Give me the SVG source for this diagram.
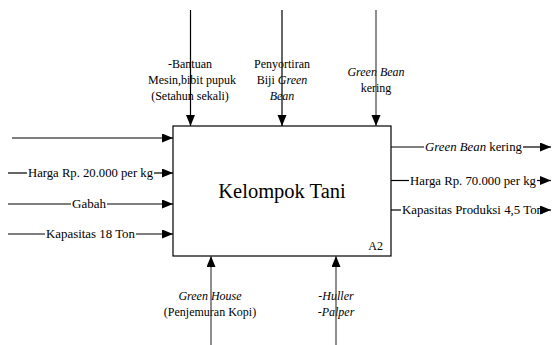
<svg xmlns="http://www.w3.org/2000/svg" width="552" height="345" viewBox="0 0 552 345">
<style>
text{font-family:"Liberation Serif","Times New Roman",serif;font-size:12px;fill:#000}
.c{text-anchor:middle}
.ln{stroke:#000;stroke-width:1.2;fill:none}
.gl{stroke:#444;stroke-width:1.2;fill:none}
</style>
<defs>
<marker id="ah" markerUnits="userSpaceOnUse" markerWidth="12" markerHeight="10" refX="11" refY="4.5" orient="auto">
<path d="M0,0 L11,4.5 L0,9 Z" fill="#000"/>
</marker>
</defs>
<g id="node-kelompok-tani">
<rect x="173" y="126" width="218" height="130" fill="#fff" stroke="#000" stroke-width="1.2"/>
<text class="c" x="282" y="198" style="font-size:20.5px">Kelompok Tani</text>
<text x="383" y="250" text-anchor="end">A2</text>
</g>
<g id="labels-left">
<text x="28" y="177" textLength="125" lengthAdjust="spacingAndGlyphs">Harga Rp. 20.000 per kg</text>
<text x="72" y="208" textLength="34" lengthAdjust="spacingAndGlyphs">Gabah</text>
<text x="46" y="238" textLength="89" lengthAdjust="spacingAndGlyphs">Kapasitas 18 Ton</text>
</g>
<g id="labels-right">
<text x="425" y="151" textLength="97" lengthAdjust="spacingAndGlyphs"><tspan font-style="italic">Green Bean</tspan> kering</text>
<text x="410" y="184.5" textLength="126" lengthAdjust="spacingAndGlyphs">Harga Rp. 70.000 per kg</text>
<text x="402" y="214" textLength="141" lengthAdjust="spacingAndGlyphs">Kapasitas Produksi 4,5 Ton</text>
</g>
<g id="labels-top">
<text class="c" x="190" y="68">-Bantuan</text>
<text class="c" x="192" y="84">Mesin,bibit pupuk</text>
<text class="c" x="190" y="100">(Setahun sekali)</text>
<text class="c" x="282" y="68">Penyortiran</text>
<text class="c" x="282" y="84">Biji <tspan font-style="italic">Green</tspan></text>
<text class="c" x="282" y="100" font-style="italic">Bean</text>
<text class="c" x="376" y="76" font-style="italic">Green Bean</text>
<text class="c" x="376" y="92">kering</text>
</g>
<g id="labels-bottom">
<text class="c" x="210" y="300" font-style="italic">Green House</text>
<text class="c" x="210" y="316">(Penjemuran Kopi)</text>
<text class="c" x="336" y="300" font-style="italic">-Huller</text>
<text class="c" x="336" y="316" font-style="italic">-Palper</text>
</g>
<g id="connectors">
<line class="ln" x1="12" y1="138" x2="173" y2="138" marker-end="url(#ah)"/>
<line class="ln" x1="8" y1="173" x2="27" y2="173"/>
<line class="ln" x1="154" y1="173" x2="173" y2="173" marker-end="url(#ah)"/>
<line class="ln" x1="8" y1="204" x2="71" y2="204"/>
<line class="ln" x1="107" y1="204" x2="173" y2="204" marker-end="url(#ah)"/>
<line class="ln" x1="8" y1="234" x2="45" y2="234"/>
<line class="ln" x1="136" y1="234" x2="173" y2="234" marker-end="url(#ah)"/>
<line class="ln" x1="391" y1="147" x2="424" y2="147"/>
<line class="ln" x1="523" y1="147" x2="551" y2="147" marker-end="url(#ah)"/>
<line class="ln" x1="391" y1="180.5" x2="409" y2="180.5"/>
<line class="ln" x1="537" y1="180.5" x2="551" y2="180.5" marker-end="url(#ah)"/>
<line class="ln" x1="391" y1="210" x2="401" y2="210"/>
<line class="ln" x1="540" y1="210" x2="551" y2="210" marker-end="url(#ah)"/>
<line class="ln" x1="190.5" y1="10" x2="190.5" y2="126" marker-end="url(#ah)"/>
<line class="ln" x1="282" y1="10" x2="282" y2="126" marker-end="url(#ah)"/>
<line class="gl" x1="376" y1="10" x2="376" y2="126" marker-end="url(#ah)"/>
<line class="gl" x1="211" y1="345" x2="211" y2="256" marker-end="url(#ah)"/>
<line class="gl" x1="336" y1="345" x2="336" y2="256" marker-end="url(#ah)"/>
</g>
</svg>
